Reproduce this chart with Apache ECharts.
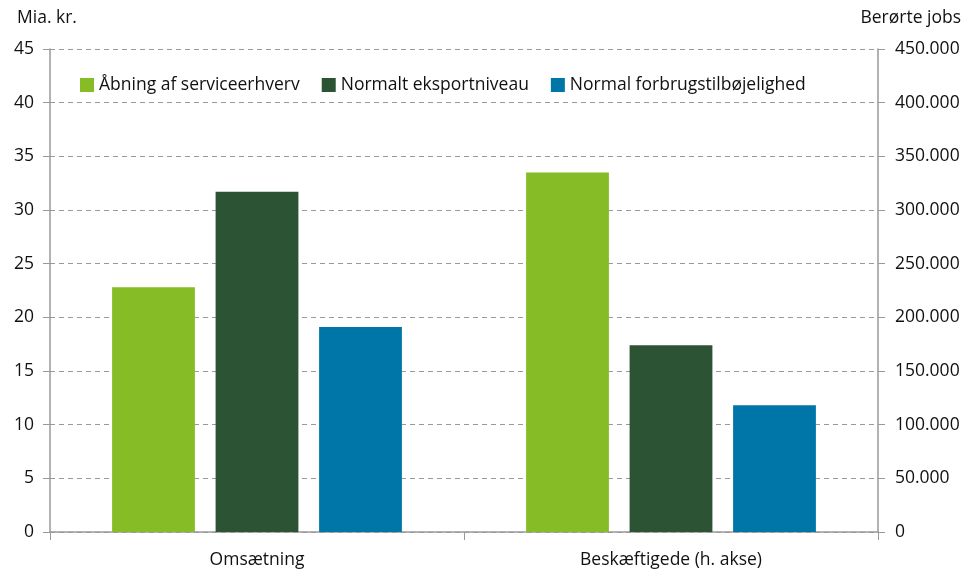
<!DOCTYPE html>
<html><head><meta charset="utf-8">
<script src="https://cdn.jsdelivr.net/npm/echarts@6/dist/echarts.min.js"></script>
<style>html,body{margin:0;padding:0;background:#fff}#c{width:970px;height:572px}</style>
</head><body><div id="c"></div>
<script>
const categories = ['Omsætning', 'Beskæftigede (h. akse)'];
const seriesNames = ['Åbning af serviceerhverv', 'Normalt eksportniveau', 'Normal forbrugstilbøjelighed'];
const omsaetning = [22.8, 31.7, 19.1];           // Mia. kr. (left axis)
const beskaeftigede = [335000, 174000, 118000];  // Berørte jobs (right axis)
const colors = ['#86BC25', '#2B5334', '#0076A8'];

const FONT = 'Open Sans';
const FS = 17.5;
const txt = '#111';
function fmtThousands(v){ return String(v).replace(/\B(?=(\d{3})+(?!\d))/g, '.'); }

const series = [];
seriesNames.forEach((n, i) => {
  series.push({ name: n, type: 'bar', xAxisIndex: 0, yAxisIndex: 0,
    data: [omsaetning[i], '-'], itemStyle: { color: colors[i] },
    barWidth: '20%', barGap: '25%' });
});
seriesNames.forEach((n, i) => {
  series.push({ name: n, type: 'bar', xAxisIndex: 1, yAxisIndex: 1,
    data: ['-', beskaeftigede[i]], itemStyle: { color: colors[i] },
    barWidth: '20%', barGap: '25%' });
});

const chart = echarts.init(document.getElementById('c'), null, { renderer: 'canvas' });
chart.setOption({
  animation: false,
  textStyle: { fontFamily: FONT },
  title: [
    { text: 'Mia. kr.', left: 12, top: 4, textStyle: { fontFamily: FONT, fontSize: FS, fontWeight: 'normal', color: txt } },
    { text: 'Berørte jobs', right: 4, top: 4, textStyle: { fontFamily: FONT, fontSize: FS, fontWeight: 'normal', color: txt } }
  ],
  legend: {
    data: seriesNames, left: 75, top: 71, icon: 'rect', itemWidth: 14, itemHeight: 14, itemGap: 22,
    textStyle: { fontFamily: FONT, fontSize: FS, color: txt }
  },
  grid: { left: 50, right: 92, top: 49, bottom: 40, containLabel: false },
  xAxis: [
    { type: 'category', data: categories, position: 'bottom',
      axisLine: { lineStyle: { color: '#999', width: 1.5 } },
      axisTick: { show: true, length: 8, lineStyle: { color: '#999' } },
      axisLabel: { fontFamily: FONT, fontSize: FS, color: txt, margin: 19 } },
    { type: 'category', data: categories, position: 'bottom', show: false }
  ],
  yAxis: [
    { type: 'value', min: 0, max: 45, interval: 5, position: 'left',
      axisLine: { show: true, lineStyle: { color: '#999', width: 1.5 } },
      axisTick: { show: true, length: 7, lineStyle: { color: '#999' } },
      axisLabel: { fontFamily: FONT, fontSize: FS, color: txt, margin: 16 },
      splitLine: { show: true, lineStyle: { color: '#999', type: [5, 4], width: 1 } } },
    { type: 'value', min: 0, max: 450000, interval: 50000, position: 'right',
      axisLine: { show: true, lineStyle: { color: '#999', width: 1.5 } },
      axisTick: { show: true, length: 7, lineStyle: { color: '#999' } },
      axisLabel: { fontFamily: FONT, fontSize: FS, color: txt, margin: 17, formatter: fmtThousands },
      splitLine: { show: false } }
  ],
  series: series
});
</script></body></html>
